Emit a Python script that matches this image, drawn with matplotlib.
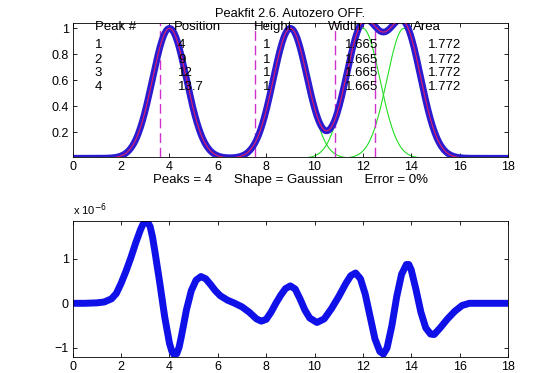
import numpy as np
import matplotlib
matplotlib.use("Agg")
import matplotlib.pyplot as plt

plt.rcParams['font.family'] = ['Liberation Sans', 'DejaVu Sans']

# Fitted peak table
peak_ids = [1, 2, 3, 4]
positions = [4, 9, 12, 13.7]
heights = [1, 1, 1, 1]
widths = [1.665, 1.665, 1.665, 1.665]
areas = [1.772, 1.772, 1.772, 1.772]
boundaries = [3.6, 7.53, 10.84, 12.52]

# Residuals (x 1e-6)
res_x = [0, 0.5, 1.0, 1.3, 1.6, 1.8, 2.0, 2.2, 2.4, 2.6, 2.8, 2.9, 3.0, 3.1, 3.2, 3.3, 3.4, 3.6, 3.8,
         4.0, 4.1, 4.2, 4.3, 4.4, 4.5, 4.7, 4.9, 5.1, 5.3, 5.5, 5.7, 5.9, 6.1, 6.4, 6.7, 7.0, 7.3,
         7.6, 7.8, 8.0, 8.2, 8.4, 8.6, 8.8, 9.0, 9.2, 9.4, 9.6, 9.8, 10.1, 10.4, 10.7, 11.0,
         11.3, 11.5, 11.7, 11.9, 12.1, 12.3, 12.5, 12.7, 12.85, 13.0, 13.2, 13.4, 13.6, 13.8,
         13.9, 14.0, 14.2, 14.4, 14.6, 14.8, 14.95, 15.2, 15.5, 15.8, 16.1, 16.4, 17, 18]
res_y = [0, 0, 0.01, 0.03, 0.1, 0.22, 0.45, 0.72, 1.02, 1.35, 1.65, 1.77, 1.83, 1.82, 1.72, 1.48,
         1.15, 0.45, -0.3, -0.9, -1.08, -1.16, -1.13, -0.98, -0.72, -0.15, 0.28, 0.52, 0.6, 0.55,
         0.42, 0.28, 0.17, 0.07, 0.0, -0.08, -0.2, -0.35, -0.4, -0.36, -0.2, 0.0, 0.18, 0.33,
         0.39, 0.32, 0.1, -0.15, -0.33, -0.43, -0.35, -0.12, 0.15, 0.45, 0.62, 0.68, 0.55, 0.2,
         -0.3, -0.8, -1.08, -1.14, -1.0, -0.5, 0.15, 0.65, 0.87, 0.87, 0.75, 0.3, -0.2, -0.55,
         -0.69, -0.7, -0.55, -0.35, -0.18, -0.05, 0.0, 0, 0]

x = np.linspace(0, 18, 600)
comps = [h * np.exp(-((x - p) / (0.6005612 * w)) ** 2)
         for p, h, w in zip(positions, heights, widths)]
total = np.sum(comps, axis=0)

fig = plt.figure(figsize=(5.6, 3.73), dpi=100)
ax1 = fig.add_axes([0.130, 0.580, 0.777, 0.359])
ax2 = fig.add_axes([0.130, 0.044, 0.777, 0.364])

blue = '#1010e8'
ax1.plot(x, total, color='#2a1ad0', lw=4.8, solid_capstyle='round', zorder=2)
ax1.plot(x, total, color='#e0206a', lw=0.8, zorder=3)
for c in comps:
    ax1.plot(x, c, color='#22dd22', lw=0.8, zorder=1)
for b in boundaries:
    ax1.axvline(b, color='#d030d0', lw=1.0, ls=(0, (7, 3.5)), zorder=1)

fs = 9.5
cols = [0.9, 4.2, 7.5, 10.55, 14.07]
heads = ['Peak #', 'Position', 'Height', 'Width', 'Area']
for cx, h in zip(cols, heads):
    ax1.text(cx, 1.01, h, fontsize=fs, va='center', ha='left', zorder=5)
row_y = [0.872, 0.76, 0.655, 0.547]
for i in range(4):
    ax1.text(0.9, row_y[i], f"{peak_ids[i]}", fontsize=fs, va='center', zorder=5)
    ax1.text(4.35, row_y[i], f"{positions[i]:g}", fontsize=fs, va='center', zorder=5)
    ax1.text(7.85, row_y[i], f"{heights[i]:g}", fontsize=fs, va='center', zorder=5)
    ax1.text(11.25, row_y[i], f"{widths[i]:.3f}", fontsize=fs, va='center', zorder=5)
    ax1.text(14.7, row_y[i], f"{areas[i]:.3f}", fontsize=fs, va='center', zorder=5)

ax1.set_xlim(0, 18)
ax1.set_ylim(0.012, 1.043)
ax1.set_xticks(range(0, 19, 2))
ax1.set_yticks([0.2, 0.4, 0.6, 0.8, 1])
ax1.set_yticklabels(['0.2', '0.4', '0.6', '0.8', '1'])
ax1.set_title('Peakfit 2.6. Autozero OFF.', fontsize=9.3, pad=4)
ax1.set_xlabel('Peaks = 4      Shape = Gaussian      Error = 0%', fontsize=9.5, labelpad=1)

ax2.plot(res_x, res_y, color=blue, lw=5, solid_capstyle='round', solid_joinstyle='round')
ax2.set_xlim(0, 18)
ax2.set_ylim(-1.195, 1.85)
ax2.set_xticks(range(0, 19, 2))
ax2.set_yticks([-1, 0, 1])
ax2.text(0.0, 1.02, 'x 10$^{-6}$', transform=ax2.transAxes, fontsize=8, ha='left', va='bottom')

for ax in (ax1, ax2):
    ax.tick_params(direction='in', top=True, right=True, labelsize=9, length=3, width=0.6, pad=3)
    for s in ax.spines.values():
        s.set_linewidth(0.6)

fig.savefig('out.png', dpi=100)
